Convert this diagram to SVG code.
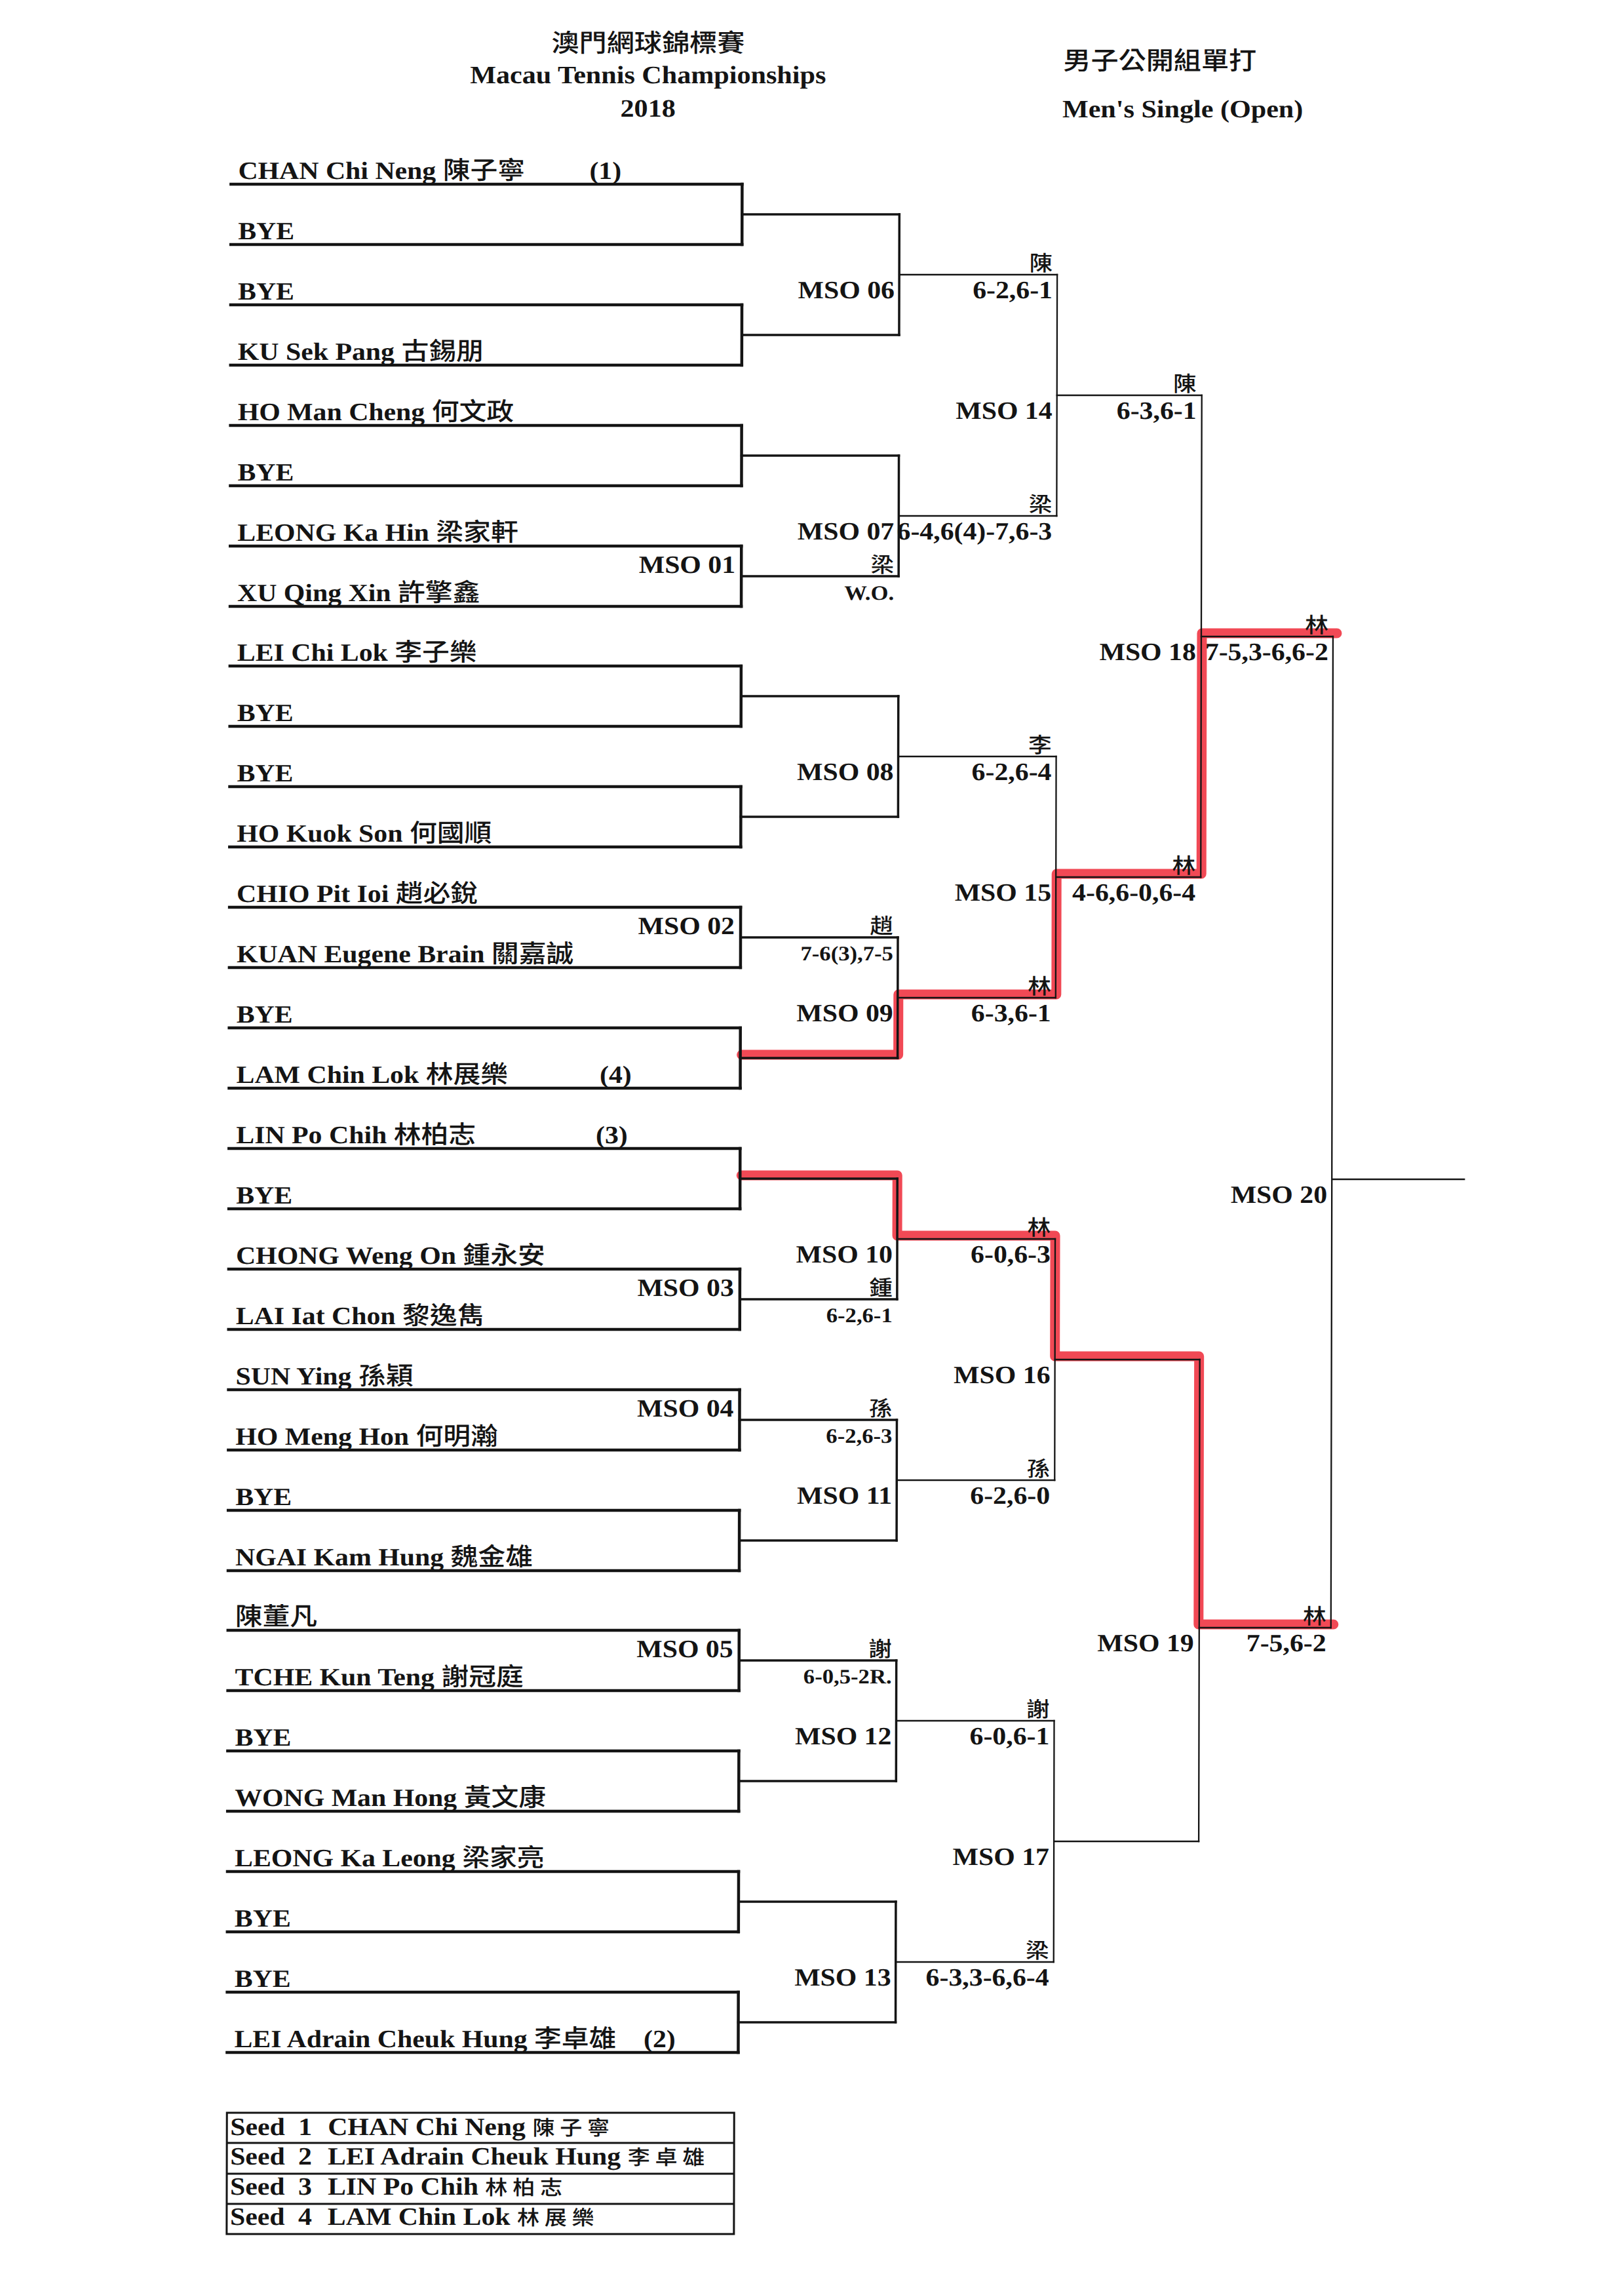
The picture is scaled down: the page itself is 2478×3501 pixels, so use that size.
<svg xmlns="http://www.w3.org/2000/svg" width="2478" height="3501" viewBox="0 0 2478 3501">
<style>
.t{font-family:"Liberation Serif","Times New Roman",serif;font-weight:700;font-size:38px;fill:#141414;transform:scale(1.1,1)}
.c{font-family:"Noto Sans CJK TC","Noto Sans CJK SC",sans-serif;font-weight:500}
.sm{font-size:31.5px}
.wc{font-size:32.4px}
.ti{font-size:38.3px}
.sd{font-size:38px}
.sc{font-size:31px;letter-spacing:7px}
.e{text-anchor:end}
.mid{text-anchor:middle}
.k{stroke:#141414;fill:none;stroke-linecap:square}
.w1{stroke-width:4.5}
.w2{stroke-width:3.5}
.w3{stroke-width:2.3}
.red{stroke:#ef303d;stroke-width:15;fill:none;stroke-linecap:round;stroke-linejoin:round;opacity:.88}
</style>
<rect width="2478" height="3501" fill="#ffffff"/>
<g transform="skewX(-0.12)">
<g id="title">
<text class="t c ti mid" x="899.1" y="79">澳門網球錦標賽</text>
<text class="t ti mid" x="899.1" y="127">Macau Tennis Championships</text>
<text class="t ti mid" x="899.1" y="178">2018</text>
<text class="t c ti mid" x="1609.1" y="106">男子公開組單打</text>
<text class="t ti mid" x="1640.9" y="179">Men's Single (Open)</text>
</g>
<g id="highlight">
<path class="red" d="M1135,1609 H1374 V1517 H1615 V1333 H1836 V966 H2042"/>
<path class="red" d="M1135,1793 H1373 V1885 H1614 V2069 H1834 V2478 H2040"/>
</g>
<g id="connectors">
<g id="round1">
<path class="k w1" d="M1133,281V373M1133,465V557M1133,649V741M1133,833V925M1133,1016V1108M1133,1200V1292M1133,1384V1476M1133,1568V1660M1133,1752V1844M1133,1936V2028M1133,2120V2212M1133,2304V2396M1133,2487V2579M1133,2671V2763M1133,2855V2947M1133,3039V3131"/>
<path class="k w2" d="M1133,327H1373M1133,511H1373M1133,695H1373M1133,879H1373M1133,1062H1373M1133,1246H1373M1133,1430H1373M1133,1614H1373M1133,1798H1373M1133,1982H1373M1133,2166H1373M1133,2350H1373M1133,2533H1373M1133,2717H1373M1133,2901H1373M1133,3085H1373"/>
</g>
<g id="round2">
<path class="k w2" d="M1373,327V511M1373,695V879M1373,1062V1246M1373,1430V1614M1373,1798V1982M1373,2166V2350M1373,2533V2717M1373,2901V3085"/>
<path class="k w3" d="M1373,419H1614M1373,787H1614M1373,1154H1614M1373,1522H1614M1373,1890H1614M1373,2258H1614M1373,2625H1614M1373,2993H1614"/>
</g>
<g id="round3">
<path class="k w3" d="M1614,419V787M1614,1154V1522M1614,1890V2258M1614,2625V2993"/>
<path class="k w3" d="M1614,603H1835M1614,1338H1835M1614,2074H1835M1614,2809H1835"/>
</g>
<g id="round4">
<path class="k w3" d="M1835,603V1338M1835,2074V2809"/>
<path class="k w3" d="M1835,971H2036M1835,2483H2036"/>
</g>
<g id="round5">
<path class="k w3" d="M2036,971V2483M2036,1799H2238"/>
</g>
</g>
<g id="players">
<g id="slot-01"><line class="k w1" x1="353" y1="281" x2="1133" y2="281"/><text class="t" x="330.9" y="273">CHAN Chi Neng <tspan class="c">陳子寧</tspan></text><text class="t" x="818.2" y="273">(1)</text></g>
<g id="slot-02"><line class="k w1" x1="353" y1="373" x2="1133" y2="373"/><text class="t" x="330.9" y="365">BYE</text></g>
<g id="slot-03"><line class="k w1" x1="353" y1="465" x2="1133" y2="465"/><text class="t" x="330.9" y="457">BYE</text></g>
<g id="slot-04"><line class="k w1" x1="353" y1="557" x2="1133" y2="557"/><text class="t" x="330.9" y="549">KU Sek Pang <tspan class="c">古錫朋</tspan></text></g>
<g id="slot-05"><line class="k w1" x1="353" y1="649" x2="1133" y2="649"/><text class="t" x="330.9" y="641">HO Man Cheng <tspan class="c">何文政</tspan></text></g>
<g id="slot-06"><line class="k w1" x1="353" y1="741" x2="1133" y2="741"/><text class="t" x="330.9" y="733">BYE</text></g>
<g id="slot-07"><line class="k w1" x1="353" y1="833" x2="1133" y2="833"/><text class="t" x="330.9" y="825">LEONG Ka Hin <tspan class="c">梁家軒</tspan></text></g>
<g id="slot-08"><line class="k w1" x1="353" y1="925" x2="1133" y2="925"/><text class="t" x="330.9" y="917">XU Qing Xin <tspan class="c">許擎鑫</tspan></text></g>
<g id="slot-09"><line class="k w1" x1="353" y1="1016" x2="1133" y2="1016"/><text class="t" x="330.9" y="1008">LEI Chi Lok <tspan class="c">李子樂</tspan></text></g>
<g id="slot-10"><line class="k w1" x1="353" y1="1108" x2="1133" y2="1108"/><text class="t" x="330.9" y="1100">BYE</text></g>
<g id="slot-11"><line class="k w1" x1="353" y1="1200" x2="1133" y2="1200"/><text class="t" x="330.9" y="1192">BYE</text></g>
<g id="slot-12"><line class="k w1" x1="353" y1="1292" x2="1133" y2="1292"/><text class="t" x="330.9" y="1284">HO Kuok Son <tspan class="c">何國順</tspan></text></g>
<g id="slot-13"><line class="k w1" x1="353" y1="1384" x2="1133" y2="1384"/><text class="t" x="330.9" y="1376">CHIO Pit Ioi <tspan class="c">趙必銳</tspan></text></g>
<g id="slot-14"><line class="k w1" x1="353" y1="1476" x2="1133" y2="1476"/><text class="t" x="330.9" y="1468">KUAN Eugene Brain <tspan class="c">關嘉誠</tspan></text></g>
<g id="slot-15"><line class="k w1" x1="353" y1="1568" x2="1133" y2="1568"/><text class="t" x="330.9" y="1560">BYE</text></g>
<g id="slot-16"><line class="k w1" x1="353" y1="1660" x2="1133" y2="1660"/><text class="t" x="330.9" y="1652">LAM Chin Lok <tspan class="c">林展樂</tspan></text><text class="t" x="835" y="1652">(4)</text></g>
<g id="slot-17"><line class="k w1" x1="353" y1="1752" x2="1133" y2="1752"/><text class="t" x="330.9" y="1744">LIN Po Chih <tspan class="c">林柏志</tspan></text><text class="t" x="829.7" y="1744">(3)</text></g>
<g id="slot-18"><line class="k w1" x1="353" y1="1844" x2="1133" y2="1844"/><text class="t" x="330.9" y="1836">BYE</text></g>
<g id="slot-19"><line class="k w1" x1="353" y1="1936" x2="1133" y2="1936"/><text class="t" x="330.9" y="1928">CHONG Weng On <tspan class="c">鍾永安</tspan></text></g>
<g id="slot-20"><line class="k w1" x1="353" y1="2028" x2="1133" y2="2028"/><text class="t" x="330.9" y="2020">LAI Iat Chon <tspan class="c">黎逸雋</tspan></text></g>
<g id="slot-21"><line class="k w1" x1="353" y1="2120" x2="1133" y2="2120"/><text class="t" x="330.9" y="2112">SUN Ying <tspan class="c">孫穎</tspan></text></g>
<g id="slot-22"><line class="k w1" x1="353" y1="2212" x2="1133" y2="2212"/><text class="t" x="330.9" y="2204">HO Meng Hon <tspan class="c">何明瀚</tspan></text></g>
<g id="slot-23"><line class="k w1" x1="353" y1="2304" x2="1133" y2="2304"/><text class="t" x="330.9" y="2296">BYE</text></g>
<g id="slot-24"><line class="k w1" x1="353" y1="2396" x2="1133" y2="2396"/><text class="t" x="330.9" y="2388">NGAI Kam Hung <tspan class="c">魏金雄</tspan></text></g>
<g id="slot-25"><line class="k w1" x1="353" y1="2487" x2="1133" y2="2487"/><text class="t c" x="330.9" y="2479">陳董凡</text></g>
<g id="slot-26"><line class="k w1" x1="353" y1="2579" x2="1133" y2="2579"/><text class="t" x="330.9" y="2571">TCHE Kun Teng <tspan class="c">謝冠庭</tspan></text></g>
<g id="slot-27"><line class="k w1" x1="353" y1="2671" x2="1133" y2="2671"/><text class="t" x="330.9" y="2663">BYE</text></g>
<g id="slot-28"><line class="k w1" x1="353" y1="2763" x2="1133" y2="2763"/><text class="t" x="330.9" y="2755">WONG Man Hong <tspan class="c">黃文康</tspan></text></g>
<g id="slot-29"><line class="k w1" x1="353" y1="2855" x2="1133" y2="2855"/><text class="t" x="330.9" y="2847">LEONG Ka Leong <tspan class="c">梁家亮</tspan></text></g>
<g id="slot-30"><line class="k w1" x1="353" y1="2947" x2="1133" y2="2947"/><text class="t" x="330.9" y="2939">BYE</text></g>
<g id="slot-31"><line class="k w1" x1="353" y1="3039" x2="1133" y2="3039"/><text class="t" x="330.9" y="3031">BYE</text></g>
<g id="slot-32"><line class="k w1" x1="353" y1="3131" x2="1133" y2="3131"/><text class="t" x="330.9" y="3123">LEI Adrain Cheuk Hung <tspan class="c">李卓雄</tspan></text><text class="t" x="898.7" y="3123">(2)</text></g>
</g>
<g id="matches">
<g id="mso-01"><text class="t e" x="1021.8" y="874">MSO 01</text><text class="t c wc e" x="1241.8" y="873">梁</text><text class="t sm e" x="1241.8" y="915">W.O.</text></g>
<g id="mso-02"><text class="t e" x="1021.8" y="1425">MSO 02</text><text class="t c wc e" x="1241.8" y="1424">趙</text><text class="t sm e" x="1241.8" y="1465">7-6(3),7-5</text></g>
<g id="mso-03"><text class="t e" x="1021.8" y="1977">MSO 03</text><text class="t c wc e" x="1241.8" y="1976">鍾</text><text class="t sm e" x="1241.8" y="2017">6-2,6-1</text></g>
<g id="mso-04"><text class="t e" x="1021.8" y="2161">MSO 04</text><text class="t c wc e" x="1241.8" y="2160">孫</text><text class="t sm e" x="1241.8" y="2201">6-2,6-3</text></g>
<g id="mso-05"><text class="t e" x="1021.8" y="2528">MSO 05</text><text class="t c wc e" x="1241.8" y="2527">謝</text><text class="t sm e" x="1241.8" y="2568">6-0,5-2R.</text></g>
<g id="mso-06"><text class="t e" x="1241.8" y="455">MSO 06</text><text class="t c wc e" x="1460.9" y="413">陳</text><text class="t e" x="1460.9" y="455">6-2,6-1</text></g>
<g id="mso-07"><text class="t e" x="1241.8" y="823">MSO 07</text><text class="t c wc e" x="1460.9" y="781">梁</text><text class="t e" x="1460.9" y="823">6-4,6(4)-7,6-3</text></g>
<g id="mso-08"><text class="t e" x="1241.8" y="1190">MSO 08</text><text class="t c wc e" x="1460.9" y="1148">李</text><text class="t e" x="1460.9" y="1190">6-2,6-4</text></g>
<g id="mso-09"><text class="t e" x="1241.8" y="1558">MSO 09</text><text class="t c wc e" x="1460.9" y="1516">林</text><text class="t e" x="1460.9" y="1558">6-3,6-1</text></g>
<g id="mso-10"><text class="t e" x="1241.8" y="1926">MSO 10</text><text class="t c wc e" x="1460.9" y="1884">林</text><text class="t e" x="1460.9" y="1926">6-0,6-3</text></g>
<g id="mso-11"><text class="t e" x="1241.8" y="2294">MSO 11</text><text class="t c wc e" x="1460.9" y="2252">孫</text><text class="t e" x="1460.9" y="2294">6-2,6-0</text></g>
<g id="mso-12"><text class="t e" x="1241.8" y="2661">MSO 12</text><text class="t c wc e" x="1460.9" y="2619">謝</text><text class="t e" x="1460.9" y="2661">6-0,6-1</text></g>
<g id="mso-13"><text class="t e" x="1241.8" y="3029">MSO 13</text><text class="t c wc e" x="1460.9" y="2987">梁</text><text class="t e" x="1460.9" y="3029">6-3,3-6,6-4</text></g>
<g id="mso-14"><text class="t e" x="1460.9" y="639">MSO 14</text><text class="t c wc e" x="1660.9" y="597">陳</text><text class="t e" x="1660.9" y="639">6-3,6-1</text></g>
<g id="mso-15"><text class="t e" x="1460.9" y="1374">MSO 15</text><text class="t c wc e" x="1660.9" y="1332">林</text><text class="t e" x="1660.9" y="1374">4-6,6-0,6-4</text></g>
<g id="mso-16"><text class="t e" x="1460.9" y="2110">MSO 16</text></g>
<g id="mso-17"><text class="t e" x="1460.9" y="2845">MSO 17</text></g>
<g id="mso-18"><text class="t e" x="1660.9" y="1007">MSO 18</text><text class="t c wc e" x="1844.5" y="965">林</text><text class="t e" x="1844.5" y="1007">7-5,3-6,6-2</text></g>
<g id="mso-19"><text class="t e" x="1660.9" y="2519">MSO 19</text><text class="t c wc e" x="1844.5" y="2477">林</text><text class="t e" x="1844.5" y="2519">7-5,6-2</text></g>
<g id="mso-20"><text class="t e" x="1844.5" y="1835">MSO 20</text></g>
</g>
<g id="seeds">
<path class="k" stroke-width="3" d="M353,3223H1127V3408H353Z M353,3269H1127 M353,3316H1127 M353,3362H1127"/>
<text class="t sd" y="3257"><tspan x="325.5">Seed</tspan><tspan x="420">1</tspan><tspan x="460.9">CHAN Chi Neng </tspan><tspan class="c sc">陳子寧</tspan></text>
<text class="t sd" y="3302"><tspan x="325.5">Seed</tspan><tspan x="420">2</tspan><tspan x="460.9">LEI Adrain Cheuk Hung </tspan><tspan class="c sc">李卓雄</tspan></text>
<text class="t sd" y="3348"><tspan x="325.5">Seed</tspan><tspan x="420">3</tspan><tspan x="460.9">LIN Po Chih </tspan><tspan class="c sc">林柏志</tspan></text>
<text class="t sd" y="3394"><tspan x="325.5">Seed</tspan><tspan x="420">4</tspan><tspan x="460.9">LAM Chin Lok </tspan><tspan class="c sc">林展樂</tspan></text>
</g>
</g>
</svg>
